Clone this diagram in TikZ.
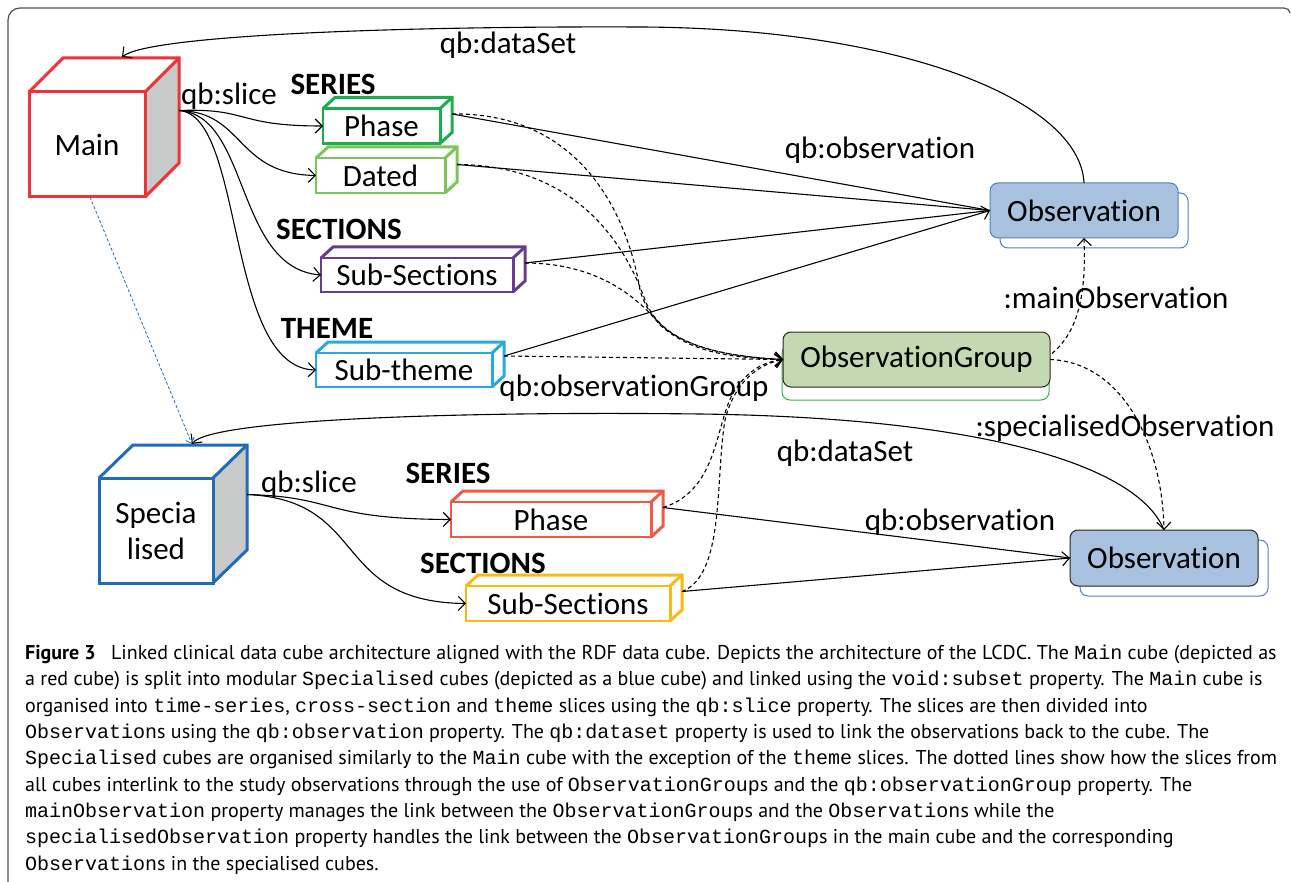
\documentclass[tikz,border=0pt]{standalone}
\usepackage{fontspec}
\setmainfont[Ligatures={NoCommon}]{Carlito}
\newfontfamily\capfont{PT Sans}
\newfontfamily\codefont{Liberation Mono}
\usetikzlibrary{arrows.meta,calc}
\definecolor{cred}{HTML}{EE3237}
\definecolor{cblue}{HTML}{1E6DB6}
\definecolor{cgreen}{HTML}{1AAE4E}
\definecolor{clgreen}{HTML}{7DC45A}
\definecolor{cpurple}{HTML}{663D91}
\definecolor{ccyan}{HTML}{27A9E1}
\definecolor{corange}{HTML}{EE5A45}
\definecolor{cyellow}{HTML}{FDB913}
\definecolor{obsfill}{HTML}{A7C1DE}
\definecolor{obsline}{HTML}{4F81BD}
\definecolor{ogfill}{HTML}{C4D9B2}
\definecolor{oggreen}{HTML}{2DB34A}
\definecolor{cubegray}{HTML}{C8CAC9}
\definecolor{framegray}{HTML}{505050}
\newcommand\cd[1]{{\codefont #1}}
\newcommand\boxfaces[5]{%
  \fill[#5] (#1.north east) -- ($(#1.north east)+(#2,-#3)$) -- ($(#1.south east)+(#2,-#3)$) -- (#1.south east) -- cycle;
  \draw[#4, facel] (#1.north west) -- ($(#1.north west)+(#2,-#3)$) -- ($(#1.north east)+(#2,-#3)$) -- ($(#1.south east)+(#2,-#3)$) -- (#1.south east);
  \draw[#4, facel] (#1.north east) -- ($(#1.north east)+(#2,-#3)$);
  \draw[#4, facel] (#1.north east) -- (#1.south east);
}
\begin{document}
\begin{tikzpicture}[x=1pt,y=-1pt,
  facel/.style={line width=3, line join=miter},
  cube/.style={draw, line width=3, outer sep=0, inner sep=0, line join=miter, font=\fontsize{31}{35}\selectfont, align=center},
  slicebox/.style={draw, line width=2.8, outer sep=0, inner sep=0, line join=miter, minimum height=35, font=\fontsize{31}{34}\selectfont},
  obsbox/.style={draw, rounded corners=8, line width=1, outer sep=0, inner sep=0, minimum height=55, font=\fontsize{31}{34}\selectfont},
  backbox/.style={draw, rounded corners=8, line width=1, outer sep=0, inner sep=0, minimum height=55},
  lbl/.style={inner sep=0, font=\fontsize{31}{34}\selectfont},
  hdr/.style={inner sep=0, font=\bfseries\fontsize{31}{34}\selectfont},
  conn/.style={line width=1.1, -{Straight Barb[length=7,width=14]}},
  line/.style={line width=1.1},
  dsh/.style={conn, dash pattern=on 4 off 3},
  capl/.style={anchor=base west, inner sep=0, font=\capfont\fontsize{20}{26}\selectfont}
]
\useasboundingbox (0,0) rectangle (1292,882);
% frame
\draw[framegray, line width=1.2] (8,882) -- (8,20) arc[start angle=180, end angle=90, x radius=12, y radius=-12] -- (1284,8) to[out=0,in=90] (1290,13);

% main cube
\node[cube, draw=cred, minimum width=116, minimum height=105] (main) at (87,144.5) {Main};
\boxfaces{main}{34}{34}{cred}{cubegray}
% specialised cube
\node[cube, draw=cblue, minimum width=114, minimum height=105] (spec) at (156,530.5) {Specia\\[1pt]lised};
\boxfaces{spec}{34}{33}{cblue}{cubegray}

% slice boxes
\node[slicebox, draw=cgreen, minimum width=117] (phase) at (381.5,126) {Phase};
\boxfaces{phase}{12}{11}{cgreen,line width=2.8}{white}
\node[slicebox, draw=clgreen, minimum width=129] (dated) at (380.5,175.5) {Dated};
\boxfaces{dated}{12}{11}{clgreen,line width=2.8}{white}
\node[slicebox, draw=cpurple, minimum width=192, minimum height=34] (subsec) at (417,275) {Sub-Sections};
\boxfaces{subsec}{12}{11}{cpurple,line width=2.8}{white}
\node[slicebox, draw=ccyan, minimum width=176, minimum height=34] (subtheme) at (404,370) {Sub-theme};
\boxfaces{subtheme}{12}{11}{ccyan,line width=2.8}{white}
\node[slicebox, draw=corange, minimum width=200] (sphase) at (551,519.5) {Phase};
\boxfaces{sphase}{12}{11}{corange,line width=2.8}{white}
\node[slicebox, draw=cyellow, minimum width=204] (ssubsec) at (568,603.5) {Sub-Sections};
\boxfaces{ssubsec}{12}{11}{cyellow,line width=2.8}{white}

% headers
\node[hdr] (h1) at (333,84) {SERIES};
\node[hdr] (h2) at (339,229) {SECTIONS};
\node[hdr] (h3) at (327,328) {THEME};
\node[hdr] (h4) at (448,473) {SERIES};
\node[hdr] (h5) at (483,563) {SECTIONS};

% observation boxes
\node[backbox, draw=obsline, minimum width=188] (obs1b) at (1094,220.5) {};
\node[obsbox, draw=obsline, fill=obsfill, minimum width=188] (obs1) at (1084,210.5) {Observation};
\node[backbox, draw=oggreen, minimum width=267] (ogb) at (915.5,372.5) {};
\node[obsbox, draw=black!85, fill=ogfill, minimum width=267] (og) at (916.5,359.5) {ObservationGroup};
\node[backbox, draw=obsline, minimum width=188, minimum height=56] (obs2b) at (1174,568) {};
\node[obsbox, draw=black!85, fill=obsfill, minimum width=188, minimum height=56] (obs2) at (1164,558) {Observation};

% anchor coordinates
\coordinate (mainS) at ($(main.east)+(34,-34)$);
\coordinate (specS) at ($(spec.east)+(34,-36)$);
\coordinate (phaseR) at ($(phase.east)+(12,-12)$);
\coordinate (datedR) at ($(dated.east)+(12,-11)$);
\coordinate (subsecR) at ($(subsec.east)+(12,-12)$);
\coordinate (subthemeR) at ($(subtheme.east)+(12,-14)$);
\coordinate (sphaseR) at ($(sphase.east)+(12,-12)$);
\coordinate (ssubsecR) at ($(ssubsec.east)+(12,-12)$);
\coordinate (mainTop) at (122,57);
\coordinate (specTop) at (192,444);

% qb:slice (main)
\draw[conn] (mainS) .. controls (250,108) and (235,126) .. (phase.west);
\draw[conn] (mainS) .. controls (245,112) and (235,174) .. (dated.west);
\draw[conn] (mainS) .. controls (250,115) and (235,268) .. (subsec.west);
\draw[conn] (mainS) .. controls (245,115) and (225,368) .. (subtheme.west);
% qb:slice (specialised)
\draw[conn] (specS) .. controls (340,497) and (320,519) .. (sphase.west);
\draw[conn] (specS) .. controls (370,500) and (330,602) .. (ssubsec.west);

% qb:observation
\draw[line] (phaseR) -- (obs1.west);
\draw[line] (datedR) -- (obs1.west);
\draw[line] (subsecR) -- (obs1.west);
\draw[conn] (subthemeR) -- (obs1.west);
\draw[line] (sphaseR) -- (obs2.west);
\draw[conn] (ssubsecR) -- (obs2.west);

% qb:observationGroup (dashed)
\draw[dsh] (phaseR) .. controls (570,112) and (625,200) .. (640,290) .. controls (655,345) and (720,356) .. (og.west);
\draw[dsh] (datedR) .. controls (565,165) and (620,230) .. (645,300) .. controls (662,345) and (720,356) .. (og.west);
\draw[dsh] (subsecR) .. controls (600,263) and (640,300) .. (660,325) .. controls (690,352) and (730,358) .. (og.west);
\draw[dsh] (subthemeR) -- (og.west);
\draw[dsh] (sphaseR) .. controls (720,490) and (715,420) .. (735,390) .. controls (750,368) and (765,362) .. (og.west);
\draw[dsh] (ssubsecR) .. controls (725,575) and (715,480) .. (725,420) .. controls (735,380) and (760,364) .. (og.west);

% :mainObservation / :specialisedObservation
\draw[dsh] (og.east) ++(2,-6) .. controls (1080,330) and (1086,290) .. (obs1.south);
\draw[dsh] (og.east) .. controls (1120,362) and (1162,440) .. (obs2.north);

% qb:dataSet
\draw[conn] (obs1.north) .. controls (1080,100) and (900,28) .. (640,27) .. controls (400,26) and (150,35) .. (mainTop);
\draw[conn] (obs2.north) .. controls (1140,470) and (1000,418) .. (700,414) .. controls (450,411) and (210,420) .. (specTop);
% void:subset (blue thin dashed)
\draw[cblue, line width=0.8, dash pattern=on 3 off 2, -{Straight Barb[length=5,width=9]}] ($(main.south)+(3,0)$) -- (specTop);

% labels
\node[lbl] (l1) at (229,96) {qb:slice};
\node[lbl] (l2) at (508,45) {qb:dataSet};
\node[lbl] (l3) at (880,150) {qb:observation};
\node[lbl] (l4) at (1116,298) {:mainObservation};
\node[lbl] (l5) at (634,388) {qb:observationGroup};
\node[lbl] (l6) at (1125,428) {:specialisedObservation};
\node[lbl] (l7) at (845,453) {qb:dataSet};
\node[lbl] (l8) at (960,522) {qb:observation};
\node[lbl] (l9) at (309,484) {qb:slice};

% caption
\node[capl] (c1) at (25,659) {\textbf{Figure 3}\hspace{0.5em} Linked clinical data cube architecture aligned with the RDF data cube. Depicts the architecture of the LCDC. The \cd{Main} cube (depicted as};
\node[capl] (c2) at (25,685) {a red cube) is split into modular \cd{Specialised} cubes (depicted as a blue cube) and linked using the \cd{void:subset} property. The \cd{Main} cube is};
\node[capl] (c3) at (25,712) {organised into \cd{time-series}, \cd{cross-section} and \cd{theme} slices using the \cd{qb:slice} property. The slices are then divided into};
\node[capl] (c4) at (25,738) {\cd{Observation}s using the \cd{qb:observation} property. The \cd{qb:dataset} property is used to link the observations back to the cube. The};
\node[capl] (c5) at (25,764) {\cd{Specialised} cubes are organised similarly to the \cd{Main} cube with the exception of the \cd{theme} slices. The dotted lines show how the slices from};
\node[capl] (c6) at (25,791) {all cubes interlink to the study observations through the use of \cd{ObservationGroup}s and the \cd{qb:observationGroup} property. The};
\node[capl] (c7) at (25,817) {\cd{mainObservation} property manages the link between the \cd{ObservationGroup}s and the \cd{Observation}s while the};
\node[capl] (c8) at (25,843) {\cd{specialisedObservation} property handles the link between the \cd{ObservationGroup}s in the main cube and the corresponding};
\node[capl] (c9) at (25,870) {\cd{Observation}s in the specialised cubes.};
\end{tikzpicture}
\end{document}
